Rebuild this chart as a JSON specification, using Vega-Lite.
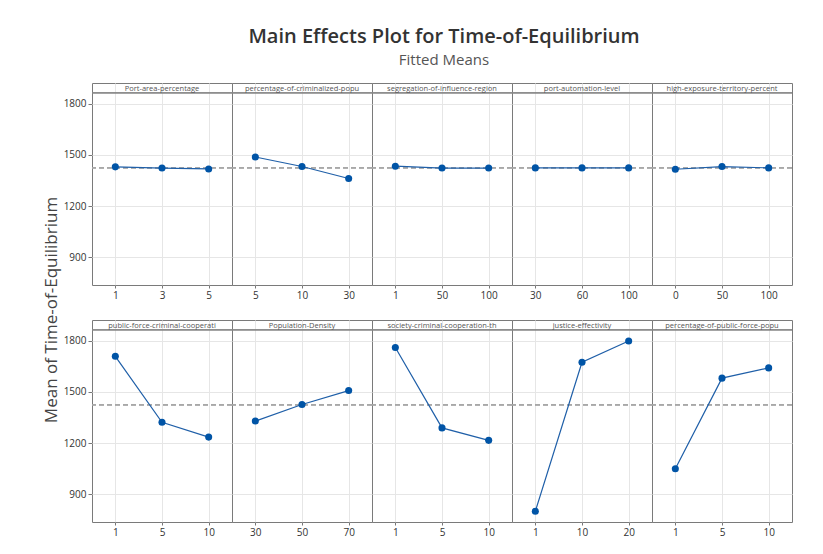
{
  "$schema": "https://vega.github.io/schema/vega-lite/v6.json",
  "background": "white",
  "padding": {"left": 42, "top": 26, "right": 5, "bottom": 5},
  "bounds": "flush",
  "title": {
    "text": "Main Effects Plot for Time-of-Equilibrium",
    "subtitle": "Fitted Means",
    "font": "Open Sans",
    "fontSize": 20,
    "fontWeight": 600,
    "color": "#333333",
    "subtitleFont": "Open Sans",
    "subtitleFontSize": 15,
    "subtitleColor": "#555555",
    "subtitlePadding": 6,
    "anchor": "middle",
    "frame": "group",
    "dx": 352,
    "offset": 15
  },
  "data": {
    "values": [
      {"r": 1, "c": 1, "factor": "Port-area-percentage", "level": "1", "idx": 1, "mean": 1430},
      {"r": 1, "c": 1, "factor": "Port-area-percentage", "level": "3", "idx": 2, "mean": 1423},
      {"r": 1, "c": 1, "factor": "Port-area-percentage", "level": "5", "idx": 3, "mean": 1418},
      {"r": 1, "c": 2, "factor": "percentage-of-criminalized-popu", "level": "5", "idx": 1, "mean": 1488},
      {"r": 1, "c": 2, "factor": "percentage-of-criminalized-popu", "level": "10", "idx": 2, "mean": 1432},
      {"r": 1, "c": 2, "factor": "percentage-of-criminalized-popu", "level": "30", "idx": 3, "mean": 1362},
      {"r": 1, "c": 3, "factor": "segregation-of-influence-region", "level": "1", "idx": 1, "mean": 1434},
      {"r": 1, "c": 3, "factor": "segregation-of-influence-region", "level": "50", "idx": 2, "mean": 1423},
      {"r": 1, "c": 3, "factor": "segregation-of-influence-region", "level": "100", "idx": 3, "mean": 1423},
      {"r": 1, "c": 4, "factor": "port-automation-level", "level": "30", "idx": 1, "mean": 1424},
      {"r": 1, "c": 4, "factor": "port-automation-level", "level": "60", "idx": 2, "mean": 1424},
      {"r": 1, "c": 4, "factor": "port-automation-level", "level": "100", "idx": 3, "mean": 1424},
      {"r": 1, "c": 5, "factor": "high-exposure-territory-percent", "level": "0", "idx": 1, "mean": 1416},
      {"r": 1, "c": 5, "factor": "high-exposure-territory-percent", "level": "50", "idx": 2, "mean": 1432},
      {"r": 1, "c": 5, "factor": "high-exposure-territory-percent", "level": "100", "idx": 3, "mean": 1424},
      {"r": 2, "c": 1, "factor": "public-force-criminal-cooperati", "level": "1", "idx": 1, "mean": 1709},
      {"r": 2, "c": 1, "factor": "public-force-criminal-cooperati", "level": "5", "idx": 2, "mean": 1322},
      {"r": 2, "c": 1, "factor": "public-force-criminal-cooperati", "level": "10", "idx": 3, "mean": 1235},
      {"r": 2, "c": 2, "factor": "Population-Density", "level": "30", "idx": 1, "mean": 1329},
      {"r": 2, "c": 2, "factor": "Population-Density", "level": "50", "idx": 2, "mean": 1426},
      {"r": 2, "c": 2, "factor": "Population-Density", "level": "70", "idx": 3, "mean": 1508},
      {"r": 2, "c": 3, "factor": "society-criminal-cooperation-th", "level": "1", "idx": 1, "mean": 1761},
      {"r": 2, "c": 3, "factor": "society-criminal-cooperation-th", "level": "5", "idx": 2, "mean": 1289},
      {"r": 2, "c": 3, "factor": "society-criminal-cooperation-th", "level": "10", "idx": 3, "mean": 1216},
      {"r": 2, "c": 4, "factor": "justice-effectivity", "level": "1", "idx": 1, "mean": 800},
      {"r": 2, "c": 4, "factor": "justice-effectivity", "level": "10", "idx": 2, "mean": 1674},
      {"r": 2, "c": 4, "factor": "justice-effectivity", "level": "20", "idx": 3, "mean": 1799},
      {"r": 2, "c": 5, "factor": "percentage-of-public-force-popu", "level": "1", "idx": 1, "mean": 1049},
      {"r": 2, "c": 5, "factor": "percentage-of-public-force-popu", "level": "5", "idx": 2, "mean": 1581},
      {"r": 2, "c": 5, "factor": "percentage-of-public-force-popu", "level": "10", "idx": 3, "mean": 1641}
    ]
  },
  "facet": {
    "row": {
      "field": "r",
      "type": "ordinal",
      "header": {
        "title": "Mean of Time-of-Equilibrium",
        "labels": false,
        "labelPadding": 0,
        "titleFont": "Open Sans",
        "titleFontSize": 17,
        "titleFontWeight": "normal",
        "titleColor": "#444444",
        "titlePadding": -8
      }
    },
    "column": {"field": "c", "type": "ordinal", "header": null}
  },
  "spacing": {"row": 35, "column": 0},
  "resolve": {"scale": {"x": "independent"}},
  "spec": {
    "width": 140,
    "height": 202,
    "encoding": {
      "x": {
        "field": "level",
        "type": "ordinal",
        "sort": {"field": "idx", "op": "min"},
        "scale": {"type": "point", "padding": 0.5},
        "axis": {
          "title": null,
          "labelAngle": 0,
          "labelFont": "Open Sans",
          "labelFontSize": 10,
          "labelColor": "#333333",
          "tickSize": 3,
          "tickColor": "#777777",
          "domain": false,
          "grid": true,
          "gridColor": "#e6e6e6"
        }
      }
    },
    "layer": [
      {
        "mark": {"type": "rule", "color": "#a6a6a6", "strokeDash": [5, 3], "strokeWidth": 1.2},
        "encoding": {"x": null, "y": {"datum": 1424}}
      },
      {
        "mark": {"type": "rule", "color": "#888888", "strokeWidth": 1},
        "encoding": {"x": null, "y": {"datum": 1864}}
      },
      {
        "transform": [{"filter": "datum.idx == 2"}],
        "mark": {"type": "text", "baseline": "alphabetic", "font": "Open Sans", "fontSize": 7.5, "color": "#555555"},
        "encoding": {
          "y": {"datum": 1876},
          "text": {"field": "factor"}
        }
      },
      {
        "mark": {"type": "line", "color": "#1f5fa8", "strokeWidth": 1.2},
        "encoding": {
          "y": {
            "field": "mean",
            "type": "quantitative",
            "scale": {"domain": [737, 1922], "nice": false, "zero": false},
            "axis": {
              "title": null,
              "values": [900, 1200, 1500, 1800],
              "format": "d",
              "labelFont": "Open Sans",
              "labelFontSize": 10,
              "labelColor": "#333333",
              "tickSize": 4,
              "tickColor": "#777777",
              "domain": false,
              "grid": true,
              "gridColor": "#e6e6e6"
            }
          }
        }
      },
      {
        "mark": {"type": "point", "filled": true, "opacity": 1, "size": 50, "color": "#0054a6"},
        "encoding": {
          "y": {"field": "mean", "type": "quantitative"}
        }
      }
    ]
  },
  "config": {
    "view": {"stroke": "#7a7a7a", "strokeWidth": 1},
    "font": "Open Sans"
  }
}
